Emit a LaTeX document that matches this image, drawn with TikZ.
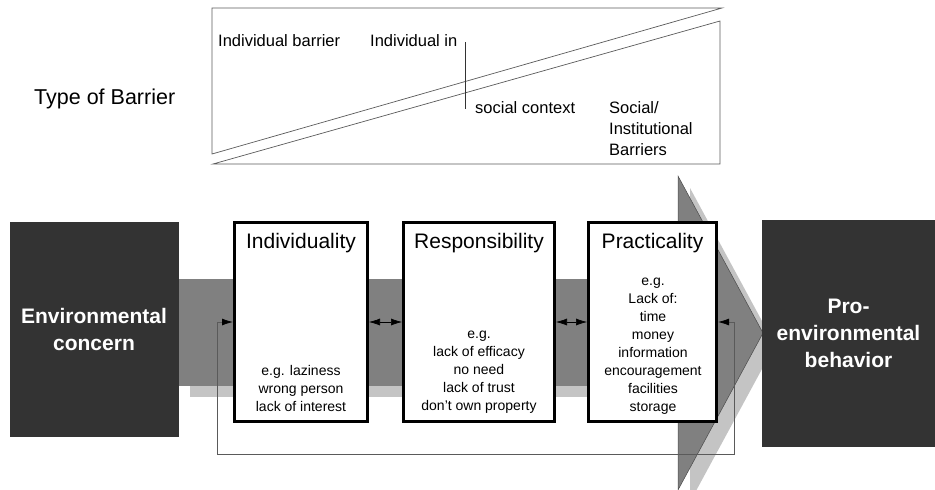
\documentclass[tikz,border=0pt]{standalone}
\usepackage{fontspec}
\setmainfont{Liberation Sans}
\usetikzlibrary{arrows.meta}
\definecolor{darkbox}{HTML}{333333}
\definecolor{bandgray}{HTML}{808080}
\definecolor{shadegray}{HTML}{C4C4C4}
\definecolor{linegray}{HTML}{5A5A5A}
\tikzset{
  blackbox/.style={fill=darkbox, draw=darkbox, text=white, align=center, inner sep=0,
     font=\bfseries\fontsize{21}{27}\selectfont},
  whitebox/.style={fill=white, draw=black, line width=3pt, inner sep=0},
  boxtitle/.style={inner sep=0, anchor=base, font=\fontsize{21}{25}\selectfont},
  boxtext/.style={inner sep=0, anchor=base, align=center, font=\fontsize{14}{18}\selectfont},
  toptext/.style={inner sep=0, anchor=base west, align=left, font=\fontsize{16.5}{21}\selectfont},
  tiptri/.tip={Latex[length=11pt,width=7pt,black]},
  biarrow/.style={{tiptri}-{tiptri}, line width=0.6pt, black},
  fbline/.style={{tiptri}-{tiptri}, line width=0.8pt, linegray},
  thinline/.style={line width=0.7pt, linegray}
}
\begin{document}
\begin{tikzpicture}[x=1pt,y=-1pt]
\useasboundingbox (0,0) rectangle (935,490);
\clip (0,0) rectangle (935,490);

% top barrier box
\draw[thinline] (212,154) -- (212,8) -- (722,8) -- cycle;
\draw[thinline] (213,164) -- (720,21) -- (720,164) -- cycle;
\draw[line width=0.8pt, black!80] (465,42) -- (465,109);
\node[toptext] (ib) at (218,46) {Individual barrier};
\node[toptext] (ii) at (370,46) {Individual in};
\node[toptext] (sc) at (475,113) {social context};
\node[toptext] (si) at (609,155) {Social/\\Institutional\\Barriers};
\node[inner sep=0, anchor=base west, font=\fontsize{21.5}{25}\selectfont] (tb) at (34,104) {Type of Barrier};

% shaft and arrowhead with shadows
\fill[shadegray] (190,290) rectangle (680,397);
\fill[shadegray] (690,188) -- (775,345) -- (690,502) -- cycle;
\fill[bandgray] (178,279) rectangle (680,386);
\filldraw[fill=bandgray, draw=black!70, line width=0.5pt] (678,176) -- (763,333) -- (678,490) -- cycle;

% end boxes
\node[blackbox, minimum width=168pt, minimum height=214pt] (env) at (94,329) {Environmental\\concern};
\node[blackbox, minimum width=173pt, minimum height=226pt] (pro) at (848.5,333) {Pro-\\environmental\\behavior};

% barrier boxes
\node[whitebox, minimum width=133pt, minimum height=199pt] (ind) at (301,322) {};
\node[whitebox, minimum width=151pt, minimum height=199pt] (res) at (479,322) {};
\node[whitebox, minimum width=128pt, minimum height=199pt] (pra) at (652.5,322) {};

\node[boxtitle] (indt) at (301,248) {Individuality};
\node[boxtitle] (rest) at (479,248) {Responsibility};
\node[boxtitle] (prat) at (652.5,248) {Practicality};

\node[boxtext] (indx) at (301,411) {e.g. laziness\\wrong person\\lack of interest};
\node[boxtext] (resx) at (479,410) {e.g.\\lack of efficacy\\no need\\lack of trust\\don't own property};
\node[boxtext] (prax) at (653,411) {e.g.\\Lack of:\\time\\money\\information\\encouragement\\facilities\\storage};

% connectors
\draw[biarrow] (ind.east) -- (res.west);
\draw[biarrow] (res.east) -- (pra.west);
\coordinate (fbR) at (734,454);
\coordinate (fbL) at (217,454);
\draw[fbline] (pra.east) -- (pra.east -| fbR) -- (fbR) -- (fbL) -- (ind.west -| fbL) -- (ind.west);
\end{tikzpicture}
\end{document}
